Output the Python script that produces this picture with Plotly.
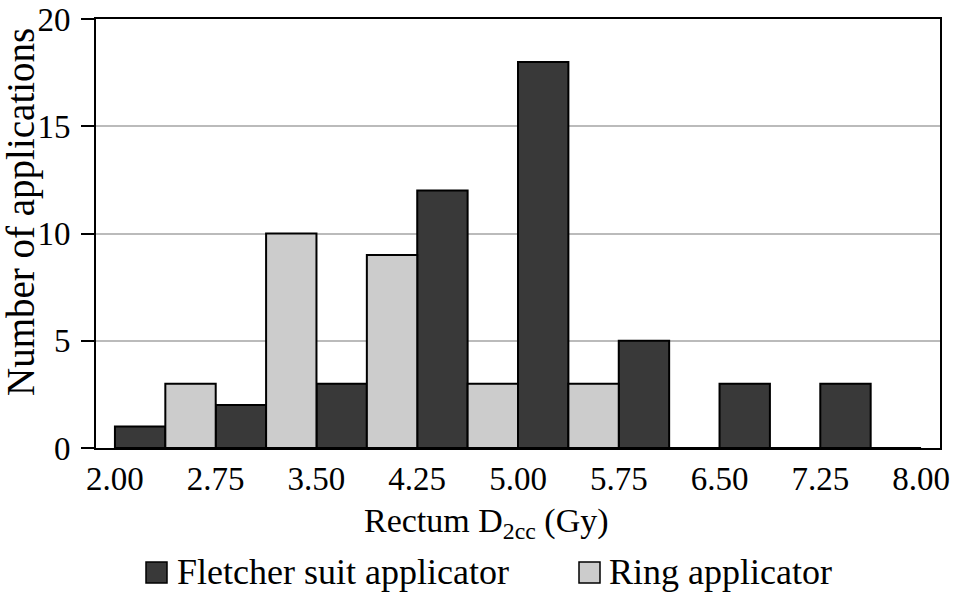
import plotly.graph_objects as go

# Data
bin_starts = [2.00, 2.75, 3.50, 4.25, 5.00, 5.75, 6.50, 7.25]
bin_width = 0.75
fletcher = [1, 2, 3, 12, 18, 5, 3, 3]
ring = [3, 10, 9, 3, 3, 0, 0, 0]
series_names = ["Fletcher suit applicator", "Ring applicator"]
tick_vals = [2.00, 2.75, 3.50, 4.25, 5.00, 5.75, 6.50, 7.25, 8.00]
tick_text = ["2.00", "2.75", "3.50", "4.25", "5.00", "5.75", "6.50", "7.25", "8.00"]
y_ticks = [0, 5, 10, 15, 20]

centers = [b + bin_width / 2 for b in bin_starts]

FONT = "Liberation Serif"
DARK = "#393939"
LIGHT = "#cccccc"

fig = go.Figure()
fig.add_trace(go.Bar(x=centers, y=fletcher, name=series_names[0], showlegend=False,
                     marker=dict(color=DARK, line=dict(color="black", width=2))))
fig.add_trace(go.Bar(x=centers, y=ring, name=series_names[1], showlegend=False,
                     marker=dict(color=LIGHT, line=dict(color="black", width=2))))

W, H = 954, 593
# target plot box: x 96..940, y 19..448
L, R, T, B = 96, 954 - 940, 19, 593 - 448
pw, ph = W - L - R, H - T - B


def px_x(x):
    return (x - L) / pw


def px_y(y):
    return (H - B - y) / ph


# custom legend (large square swatches)
shapes = []
legend_ann = []
for name, color, sx, tx in [(series_names[0], DARK, 146, 175), (series_names[1], LIGHT, 579, 607)]:
    shapes.append(dict(type="rect", xref="paper", yref="paper",
                       x0=px_x(sx), x1=px_x(sx + 21), y0=px_y(583), y1=px_y(562),
                       fillcolor=color, line=dict(color="black", width=1.5)))
    legend_ann.append(dict(text=name, xref="paper", yref="paper", x=px_x(tx), y=px_y(572),
                           xanchor="left", yanchor="middle", showarrow=False,
                           font=dict(family=FONT, size=36)))

fig.update_layout(
    width=W, height=H,
    margin=dict(l=L, r=R, t=T, b=B, pad=0, autoexpand=False),
    barmode="group", bargap=0, bargroupgap=0,
    plot_bgcolor="white", paper_bgcolor="white",
    font=dict(family=FONT, size=33, color="black"),
    showlegend=False,
    xaxis=dict(range=[1.859, 8.141], tickvals=tick_vals, ticktext=tick_text,
               showgrid=False, zeroline=False, showline=True, linecolor="black",
               linewidth=2, mirror=True, ticks="", tickfont=dict(size=33),
               automargin=False, ticklabeloverflow="allow"),
    yaxis=dict(range=[0, 20], tickvals=y_ticks, showgrid=True, gridcolor="#bbbbbb",
               gridwidth=2, zeroline=False, showline=True, linecolor="black",
               linewidth=2, mirror=True, ticks="outside", ticklen=13, tickwidth=2,
               tickcolor="black", tickfont=dict(size=33), ticklabelstandoff=4,
               automargin=False, ticklabeloverflow="allow"),
    shapes=shapes,
    annotations=[
        dict(text="Rectum D<sub>2cc</sub> (Gy)", xref="paper", yref="paper",
             x=px_x(486), y=px_y(523), xanchor="center", yanchor="middle",
             showarrow=False, font=dict(family=FONT, size=34)),
        dict(text="Number of applications", xref="paper", yref="paper",
             x=px_x(21), y=px_y(212), xanchor="center", yanchor="middle",
             textangle=-90, showarrow=False, font=dict(family=FONT, size=39)),
    ] + legend_ann,
)

fig.write_html("out.html", config={"displayModeBar": False, "staticPlot": True},
               post_script="document.body.style.margin='0';document.body.style.overflow='hidden';")
